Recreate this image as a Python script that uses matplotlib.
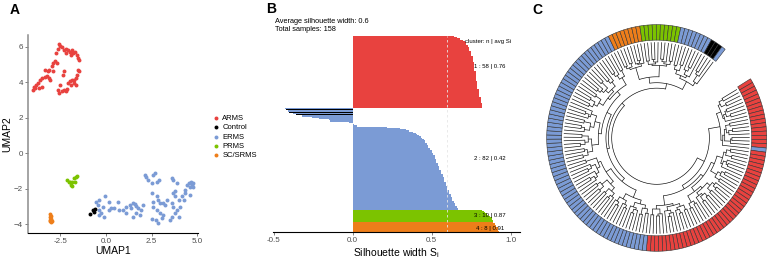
import numpy as np
import matplotlib
matplotlib.use("Agg")
import matplotlib.pyplot as plt
from matplotlib.patches import Wedge

plt.rcParams['font.family'] = ['Liberation Sans', 'DejaVu Sans']

groups = ["ARMS", "Control", "ERMS", "PRMS", "SC/SRMS"]
pal = {"ARMS": "#E8423F", "Control": "#000000", "ERMS": "#7B9BD5",
       "PRMS": "#7CC300", "SC/SRMS": "#EE7E1A"}

# ---- panel A : UMAP coordinates ----
arms_x = [-3.98, -3.93, -3.85, -3.74, -3.61, -3.52, -3.33, -3.24, -3.15, -3.06,
          -3.33, -3.20, -3.11, -2.96, -2.91, -2.78, -2.74, -2.63, -2.59, -2.52,
          -2.41, -2.31, -2.22, -2.11, -2.00, -1.89, -1.81, -1.70, -1.61, -1.52,
          -1.48, -1.52, -1.48, -1.57, -1.67, -1.74, -1.89, -2.00, -2.07, -1.94,
          -1.76, -1.63, -2.63, -2.56, -2.44, -2.31, -2.22, -2.13, -2.31, -2.37,
          -3.52, -3.67, -3.89, -2.50, -2.93, -2.69, -2.22, -1.94]
arms_y = [3.57, 3.72, 3.85, 3.95, 4.14, 4.23, 4.32, 4.36, 4.23, 4.14,
          4.66, 4.61, 4.70, 4.92, 5.08, 5.17, 5.64, 5.86, 6.15, 6.02,
          5.96, 5.83, 5.86, 5.79, 5.73, 5.83, 5.64, 5.68, 5.51, 5.36,
          5.23, 4.70, 4.61, 4.42, 4.23, 4.14, 4.14, 4.04, 3.95, 3.85,
          3.95, 3.85, 3.57, 3.38, 3.48, 3.57, 3.48, 3.61, 4.61, 4.42,
          3.72, 3.67, 3.67, 3.85, 4.61, 5.08, 5.64, 5.55]
erms_x = [-0.56, -0.46, -0.37, -0.28, -0.19, -0.04, 0.19, 0.28, 0.46, 0.65,
          0.93, 1.11, 1.30, 1.39, 1.48, 1.57, 1.67, 1.76, 1.67, 1.85,
          1.94, 2.04, 2.13, 2.22, 2.31, 2.50, 2.59, 2.69, 2.78, 2.93,
          2.50, 2.59, 2.78, 2.87, 2.96, 3.11, 2.96, 3.06, 3.15, 2.87,
          2.74, 2.50, 3.24, 3.33, 3.61, 3.70, 3.89, 3.70, 3.80, 3.61,
          3.70, 3.80, 3.89, 3.98, 3.61, 3.52, 4.07, 4.17, 4.35, 4.35,
          4.44, 4.54, 4.63, 4.67, 4.72, 4.59, 4.26, 3.98, 3.80, 2.59,
          1.48, 1.11, 0.74, 0.19, -0.09, -0.37, -0.41, 2.78, 4.80, 4.78]
erms_y = [-2.73, -2.91, -3.20, -3.38, -3.01, -2.44, -3.20, -3.10, -3.10, -2.73,
          -3.20, -3.01, -2.91, -3.10, -2.82, -2.86, -2.97, -3.10, -3.38, -3.48,
          -3.20, -2.91, -1.22, -1.32, -1.50, -1.69, -1.22, -1.13, -1.60, -1.50,
          -2.26, -3.01, -3.20, -2.63, -2.82, -2.82, -3.38, -3.67, -3.48, -3.95,
          -3.76, -3.72, -2.91, -2.63, -1.41, -1.50, -1.69, -2.26, -2.44, -2.82,
          -3.01, -3.38, -3.20, -3.57, -3.57, -3.76, -3.01, -2.44, -2.07, -2.26,
          -1.79, -1.69, -1.88, -1.60, -1.79, -2.35, -2.63, -2.63, -2.16, -2.73,
          -3.57, -3.38, -3.20, -2.73, -3.57, -2.63, -3.48, -2.44, -1.66, -1.90]
ctrl_x = [-0.88, -0.72, -0.62, -0.66]
ctrl_y = [-3.42, -3.22, -3.12, -3.30]
prms_x = [-2.13, -2.04, -1.94, -1.85, -1.76, -1.67, -1.61, -1.70, -1.89, -2.00]
prms_y = [-1.50, -1.65, -1.79, -1.60, -1.41, -1.32, -1.28, -1.60, -1.84, -1.60]
scs_x = [-3.05, -3.02, -3.08, -3.00, -3.06, -3.10, -3.03, -2.98]
scs_y = [-3.45, -3.55, -3.62, -3.70, -3.78, -3.85, -3.90, -3.80]

# ---- panel B : silhouette widths, top bar first ----
sil_c1 = [0.64, 0.66, 0.68, 0.70, 0.71, 0.72, 0.72, 0.73, 0.73, 0.74,
          0.74, 0.74, 0.75, 0.75, 0.75, 0.75, 0.76, 0.76, 0.76, 0.76,
          0.76, 0.77, 0.77, 0.77, 0.77, 0.77, 0.77, 0.77, 0.78, 0.78,
          0.78, 0.78, 0.78, 0.78, 0.78, 0.78, 0.79, 0.79, 0.79, 0.79,
          0.79, 0.79, 0.79, 0.80, 0.80, 0.80, 0.80, 0.80, 0.80, 0.81,
          0.81, 0.81, 0.81, 0.81, 0.82, 0.82, 0.82, 0.82]
sil_c2 = [-0.43, -0.42, -0.41, -0.40, -0.38, -0.36, -0.32, -0.26, -0.21, -0.15,
          -0.14, -0.02, 0.00, 0.01, 0.03,
          0.22, 0.30, 0.34, 0.36, 0.38, 0.40, 0.41, 0.42, 0.43, 0.44,
          0.45, 0.46, 0.46, 0.47, 0.47, 0.48, 0.48, 0.49, 0.49, 0.50,
          0.50, 0.51, 0.51, 0.52, 0.52, 0.52, 0.53, 0.53, 0.53, 0.54,
          0.54, 0.54, 0.55, 0.55, 0.55, 0.56, 0.56, 0.56, 0.57, 0.57,
          0.57, 0.58, 0.58, 0.58, 0.58, 0.59, 0.59, 0.59, 0.60, 0.60,
          0.60, 0.61, 0.61, 0.61, 0.62, 0.62, 0.62, 0.63, 0.63, 0.63,
          0.64, 0.64, 0.65, 0.65, 0.66, 0.66, 0.67]
sil_c3 = [0.82, 0.83, 0.84, 0.85, 0.86, 0.87, 0.88, 0.88, 0.89, 0.89]
sil_c4 = [0.89, 0.90, 0.91, 0.91, 0.92, 0.92, 0.92, 0.93]
ctrl_rows = [1, 3, 5]   # rows of cluster 2 that are Control samples
clust_labels = ["1 : 58 | 0.76", "2 : 82 | 0.42", "3 : 10 | 0.87", "4 : 8 | 0.91"]

# ---- panel C : leaf order of the dendrogram (runs) and merge heights ----
leaf_runs = [("ARMS", 17), ("ERMS", 1), ("ARMS", 41), ("ERMS", 69),
             ("SC/SRMS", 8), ("PRMS", 10), ("ERMS", 8), ("Control", 3), ("ERMS", 1)]
red_gaps = [0.36, 0.45, 0.34, 0.50, 0.38, 0.42, 0.33, 0.47, 0.60,
            0.39, 0.48, 0.35, 0.43, 0.52, 0.37, 0.40, 0.56, 0.84,
            0.38, 0.46, 0.33, 0.51, 0.40, 0.36, 0.47, 0.63, 0.35, 0.42, 0.49, 0.38, 0.70,
            0.41, 0.34, 0.47, 0.38, 0.55, 0.36, 0.44, 0.33, 0.48, 0.60, 0.39, 0.45, 0.35, 0.76,
            0.37, 0.47, 0.34, 0.42, 0.53, 0.39, 0.33, 0.45, 0.57, 0.40, 0.36, 0.50, 0.38]
blue_gaps = [0.40, 0.49, 0.36, 0.56, 0.42, 0.34, 0.46, 0.64, 0.38, 0.44, 0.52, 0.35, 0.42, 0.80,
             0.43, 0.37, 0.51, 0.40, 0.60, 0.35, 0.46, 0.38, 0.68, 0.42, 0.33, 0.48, 0.55,
             0.37, 0.45, 0.62, 0.39, 0.88,
             0.36, 0.47, 0.41, 0.58, 0.34, 0.44, 0.51, 0.38, 0.72, 0.42, 0.35, 0.53, 0.39,
             0.61, 0.45, 0.37, 0.49, 0.78,
             0.38, 0.46, 0.35, 0.54, 0.41, 0.64, 0.37, 0.44, 0.50, 0.34, 0.58, 0.40, 0.47,
             0.69, 0.36, 0.43, 0.52, 0.39]
top_gaps = [0.36, 0.41, 0.34, 0.45, 0.38, 0.33, 0.40, 0.70,
            0.37, 0.44, 0.35, 0.40, 0.47, 0.34, 0.39, 0.43, 0.36, 0.82,
            0.42, 0.50, 0.38, 0.58, 0.44, 0.36, 0.53, 0.64,
            0.35, 0.41, 0.56]
root_h = 1.0
split_h = 0.93

fig = plt.figure(figsize=(7.67, 2.61), dpi=100)
W, H = 767, 261

# ================= A =================
axA = fig.add_axes([28 / W, 1 - 233 / H, 170 / W, 198 / H])
pts = {"ARMS": (arms_x, arms_y), "Control": (ctrl_x, ctrl_y), "ERMS": (erms_x, erms_y),
       "PRMS": (prms_x, prms_y), "SC/SRMS": (scs_x, scs_y)}
for g in ["ARMS", "ERMS", "PRMS", "SC/SRMS", "Control"]:
    axA.scatter(pts[g][0], pts[g][1], s=8, color=pal[g], linewidths=0, label=g)
axA.set_xlim(-4.28, 5.05)
axA.set_ylim(-4.5, 6.66)
axA.set_xticks([-2.5, 0, 2.5, 5.0])
axA.set_xticklabels(["-2.5", "0.0", "2.5", "5.0"])
axA.set_yticks([-4, -2, 0, 2, 4, 6])
axA.tick_params(labelsize=5.8, colors="#4d4d4d", length=2, width=0.5, pad=1.5)
for s in ["top", "right"]:
    axA.spines[s].set_visible(False)
axA.spines["left"].set_color("#8c8c8c")
axA.spines["left"].set_linewidth(1.1)
axA.spines["bottom"].set_color("black")
axA.spines["bottom"].set_linewidth(0.8)
axA.set_xlabel("UMAP1", fontsize=7.5, labelpad=1)
axA.set_ylabel("UMAP2", fontsize=7.5, labelpad=1)
h, l = axA.get_legend_handles_labels()
order = [l.index(g) for g in groups]
fig.legend([h[i] for i in order], groups, loc="center left",
           bbox_to_anchor=(210 / W, 1 - 137 / H), frameon=False, fontsize=5.5,
           handlelength=0.6, handletextpad=0.5, labelspacing=0.25, borderpad=0,
           markerscale=1.0)
fig.text(10 / W, 1 - 10 / H, "A", fontsize=10, fontweight="bold", va="center")

# ================= B =================
axB = fig.add_axes([273 / W, 1 - 232 / H, 247 / W, 196 / H])
sil = sil_c1 + sil_c2 + sil_c3 + sil_c4
cols = ([pal["ARMS"]] * len(sil_c1) + [pal["ERMS"]] * len(sil_c2)
        + [pal["PRMS"]] * len(sil_c3) + [pal["SC/SRMS"]] * len(sil_c4))
for r in ctrl_rows:
    cols[len(sil_c1) + r] = pal["Control"]
yy = np.arange(len(sil))
axB.barh(yy, sil, height=1.0, color=cols, linewidth=0)
avg = round(float(np.mean(sil)), 1)
axB.axvline(avg, color="#e6e6e6", lw=0.6, ls=(0, (3, 3)))
axB.set_xlim(-0.504, 1.06)
axB.set_ylim(len(sil) - 0.5, -0.5)
axB.set_yticks([])
axB.set_xticks([-0.5, 0, 0.5, 1.0])
axB.set_xticklabels(["-0.5", "0.0", "0.5", "1.0"])
axB.tick_params(axis="x", labelsize=5.8, colors="#4d4d4d", length=2, width=0.5, pad=1.5)
for s in ["top", "right", "left"]:
    axB.spines[s].set_visible(False)
axB.spines["bottom"].set_linewidth(0.8)
axB.set_xlabel("Silhouette width S$_\\mathregular{i}$", fontsize=7.5, labelpad=2)
sizes = [len(sil_c1), len(sil_c2), len(sil_c3), len(sil_c4)]
lab_rows = [24, 98.5, 144.6, 154.8]
axB.text(0.86, 4, "cluster: n | avg Si", fontsize=4.3, ha="center", va="center")
for t, yv in zip(clust_labels, lab_rows):
    axB.text(0.87, yv, t, fontsize=4.3, ha="center", va="center")
fig.text(275 / W, 1 - 21.7 / H, "Average silhouette width: %s" % avg, fontsize=5.3, va="center")
fig.text(275 / W, 1 - 29.5 / H, "Total samples: %d" % len(sil), fontsize=5.3, va="center")
fig.text(266 / W, 1 - 9 / H, "B", fontsize=10, fontweight="bold", va="center")

# ================= C =================
axC = fig.add_axes([540 / W, 1 - 256 / H, 227 / W, 234 / H])
axC.set_xlim(-116.7, 110.3)
axC.set_ylim(-114.6, 112.6)
axC.axis("off")

leaf_groups = []
for g, k in leaf_runs:
    leaf_groups += [g] * k
n = len(leaf_groups)
gaps = np.array(red_gaps + [root_h] + blue_gaps + [split_h] + top_gaps)
step = 340.0 / n
start = 31.5
ang = np.radians(start - (np.arange(n) + 0.5) * step)


def rad(hh):
    return 93 - 48 * hh


def draw(lo, hi):
    if lo == hi:
        return ang[lo], 0.0
    k = lo + int(np.argmax(gaps[lo:hi]))
    a1, h1 = draw(lo, k)
    a2, h2 = draw(k + 1, hi)
    hh = gaps[k]
    r = rad(hh)
    for a, hc in ((a1, h1), (a2, h2)):
        axC.plot([r * np.cos(a), rad(hc) * np.cos(a)], [r * np.sin(a), rad(hc) * np.sin(a)],
                 color="black", lw=0.45, solid_capstyle="butt")
    t = np.linspace(a1, a2, 60)
    axC.plot(r * np.cos(t), r * np.sin(t), color="black", lw=0.45)
    return (a1 + a2) / 2, hh


draw(0, n - 1)

for i, g in enumerate(leaf_groups):
    t2 = start - i * step
    t1 = t2 - step
    axC.add_patch(Wedge((0, 0), 110, t1, t2, width=15, facecolor=pal[g],
                        edgecolor="#333333", lw=0.4, clip_on=False))
fig.text(532 / W, 1 - 10 / H, "C", fontsize=10, fontweight="bold", va="center")

fig.savefig("out.png", dpi=100)
